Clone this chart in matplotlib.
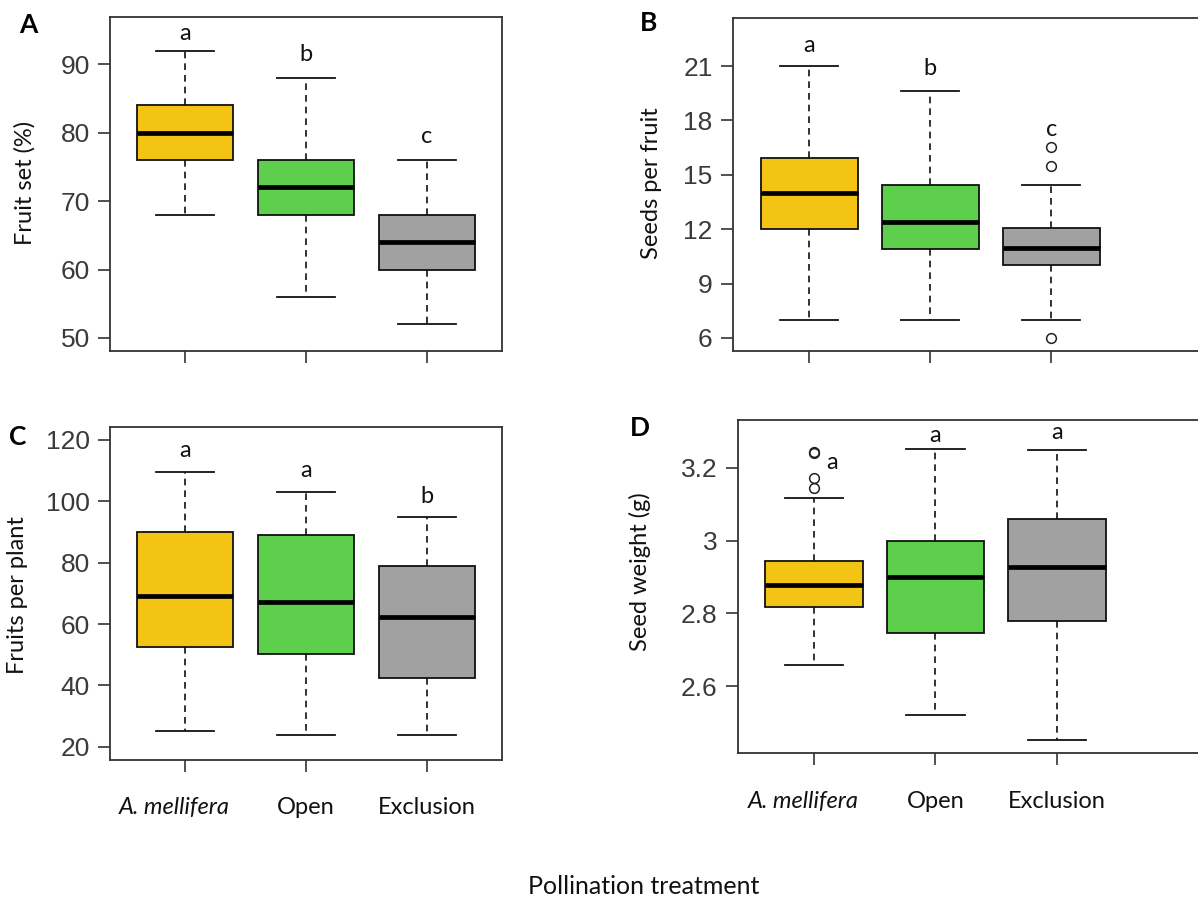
import matplotlib
matplotlib.use("Agg")
import matplotlib.pyplot as plt
from matplotlib.transforms import ScaledTranslation

# treatments and colours
groups = ["A. mellifera", "Open", "Exclusion"]
box_colors = ["#F4C414", "#5ECF4C", "#A1A1A1"]

# panel A - fruit set (%)
a_whislo = [68, 56, 52]
a_q1 = [76, 68, 60]
a_med = [80, 72, 64]
a_q3 = [84, 76, 68]
a_whishi = [92, 88, 76]
a_fliers = [[], [], []]
a_letters = ["a", "b", "c"]
a_letter_x = [1, 2, 3]
a_letter_y = [94.5, 91.4, 79.4]
a_ticks = [50, 60, 70, 80, 90]

# panel B - seeds per fruit
b_whislo = [7.0, 7.0, 7.0]
b_q1 = [12.0, 10.9, 10.0]
b_med = [14.0, 12.42, 10.96]
b_q3 = [15.92, 14.45, 12.08]
b_whishi = [21.0, 19.65, 14.45]
b_fliers = [[], [], [6.02, 15.51, 16.56]]
b_letters = ["a", "b", "c"]
b_letter_x = [1, 2, 3]
b_letter_y = [22.16, 20.87, 17.48]
b_ticks = [6, 9, 12, 15, 18, 21]

# panel C - fruits per plant
c_whislo = [25, 24, 24]
c_q1 = [52.4, 50.4, 42.3]
c_med = [69, 67.1, 62.4]
c_q3 = [90.1, 88.9, 79]
c_whishi = [109.6, 103, 95]
c_fliers = [[], [], []]
c_letters = ["a", "a", "b"]
c_letter_x = [1, 2, 3]
c_letter_y = [116.7, 109.9, 101.5]
c_ticks = [20, 40, 60, 80, 100, 120]

# panel D - seed weight (g)
d_whislo = [2.657, 2.52, 2.451]
d_q1 = [2.818, 2.746, 2.779]
d_med = [2.879, 2.899, 2.928]
d_q3 = [2.943, 3.0, 3.06]
d_whishi = [3.118, 3.251, 3.25]
d_fliers = [[3.145, 3.172, 3.241, 3.245], [], []]
d_letters = ["a", "a", "a"]
d_letter_x = [1.15, 2, 3]
d_letter_y = [3.216, 3.288, 3.297]
d_ticks = [2.6, 2.8, 3.0, 3.2]
d_ticklabels = ["2.6", "2.8", "3", "3.2"]

W, H = 1198, 900
TEXT_FONT = ["Lato", "DejaVu Sans"]
NUM_FONT = ["Liberation Sans Narrow", "Liberation Sans", "DejaVu Sans"]

fig = plt.figure(figsize=(W / 100, H / 100), dpi=100)


def px_axes(left, top, right, bottom):
    return fig.add_axes([left / W, 1 - bottom / H, (right - left) / W, (bottom - top) / H])


def make_stats(whislo, q1, med, q3, whishi, fliers):
    out = []
    for i in range(len(med)):
        out.append(dict(whislo=whislo[i], q1=q1[i], med=med[i], q3=q3[i],
                        whishi=whishi[i], fliers=fliers[i]))
    return out


def draw_panel(ax, stats, xlim, ylim, ticks, ticklabels, ylabel, ylab_pos,
               letters, letter_x, letter_y, show_xlabels, xpad=18):
    bp = ax.bxp(stats, positions=[1, 2, 3], widths=0.8, capwidths=0.48,
                patch_artist=True, showfliers=True,
                boxprops=dict(edgecolor="#111111", linewidth=1.3),
                medianprops=dict(color="black", linewidth=3.4, solid_capstyle="butt"),
                whiskerprops=dict(color="#111111", linewidth=1.2, linestyle=(0, (4, 3))),
                capprops=dict(color="#111111", linewidth=1.3),
                flierprops=dict(marker="o", markersize=7, markerfacecolor="none",
                                markeredgecolor="#222222", markeredgewidth=1.1))
    for patch, col in zip(bp["boxes"], box_colors):
        patch.set_facecolor(col)

    ax.set_xlim(*xlim)
    ax.set_ylim(*ylim)
    ax.set_yticks(ticks)
    ax.set_yticklabels(ticklabels, family=NUM_FONT, fontsize=19, color="#3a3a3a")
    ax.set_xticks([1, 2, 3])
    ax.tick_params(axis="both", direction="out", length=8.6, width=1.2, color="#333333")
    ax.tick_params(axis="y", pad=6)
    ax.tick_params(axis="x", pad=xpad)
    if show_xlabels:
        ax.set_xticklabels(groups, family=TEXT_FONT, fontsize=17, color="#111111")
        first = ax.get_xticklabels()[0]
        first.set_style("italic")
        # italic species name sits a little left of its tick in the original
        first.set_transform(first.get_transform() +
                            ScaledTranslation(-0.11, 0, fig.dpi_scale_trans))
    else:
        ax.set_xticklabels(["", "", ""])
    for sp in ax.spines.values():
        sp.set_color("#333333")
        sp.set_linewidth(1.3)

    ax.text(ylab_pos[0], ylab_pos[1], ylabel, transform=ax.transAxes, rotation=90,
            ha="center", va="center", family=TEXT_FONT, fontsize=17, color="#111111")
    for lab, lx, ly in zip(letters, letter_x, letter_y):
        ax.text(lx, ly, lab, ha="center", va="center", family=TEXT_FONT,
                fontsize=17, color="#111111")


ax_a = px_axes(110, 17, 502, 351)
draw_panel(ax_a, make_stats(a_whislo, a_q1, a_med, a_q3, a_whishi, a_fliers),
           (0.38, 3.62), (48.1, 96.9), a_ticks, [str(t) for t in a_ticks],
           "Fruit set (%)", (-0.217, 0.503), a_letters, a_letter_x, a_letter_y, False)

ax_b = px_axes(733, 18, 1210, 351)
draw_panel(ax_b, make_stats(b_whislo, b_q1, b_med, b_q3, b_whishi, b_fliers),
           (0.37, 4.31), (5.28, 23.65), b_ticks, [str(t) for t in b_ticks],
           "Seeds per fruit", (-0.17, 0.503), b_letters, b_letter_x, b_letter_y, False)

ax_c = px_axes(110, 427, 502, 760)
draw_panel(ax_c, make_stats(c_whislo, c_q1, c_med, c_q3, c_whishi, c_fliers),
           (0.38, 3.62), (15.7, 124.2), c_ticks, [str(t) for t in c_ticks],
           "Fruits per plant", (-0.237, 0.495), c_letters, c_letter_x, c_letter_y, True,
           xpad=18)

ax_d = px_axes(738, 420, 1210, 753)
draw_panel(ax_d, make_stats(d_whislo, d_q1, d_med, d_q3, d_whishi, d_fliers),
           (0.375, 4.26), (2.416, 3.332), d_ticks, d_ticklabels,
           "Seed weight (g)", (-0.208, 0.544), d_letters, d_letter_x, d_letter_y, True,
           xpad=19)

# panel tags
for tag, x, y in [("A", 28, 25), ("B", 649, 23), ("C", 18, 437), ("D", 640, 428)]:
    fig.text(x / W, 1 - y / H, tag, ha="center", va="center", family=TEXT_FONT,
             fontsize=19, fontweight="bold", color="black")

fig.text(644 / W, 1 - 887 / H, "Pollination treatment", ha="center", va="center",
         family=TEXT_FONT, fontsize=18, color="#111111")

fig.savefig("out.png", dpi=100, facecolor="white")
